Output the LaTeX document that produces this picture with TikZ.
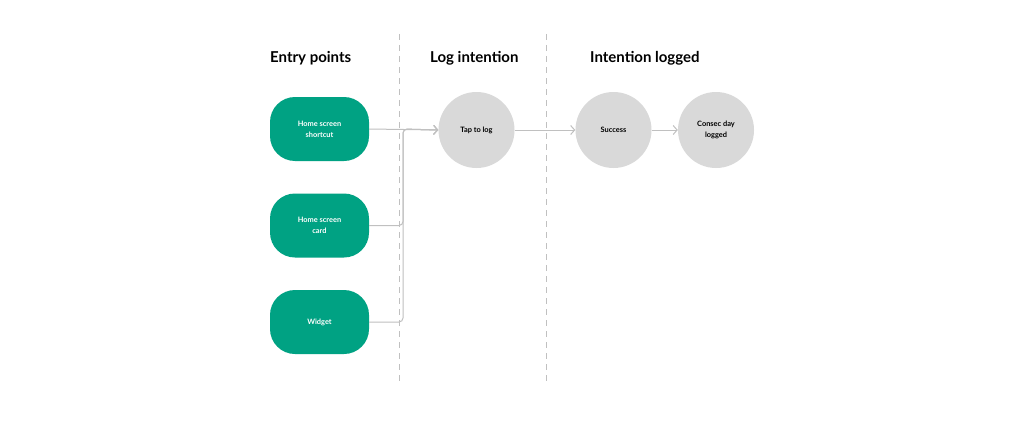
\documentclass[tikz,border=0pt]{standalone}
\usepackage{fontspec}
\setmainfont{Lato}
\usetikzlibrary{arrows.meta}
\definecolor{tgreen}{HTML}{00A283}
\definecolor{tgray}{HTML}{D9D9D9}
\definecolor{tline}{HTML}{C0C0C0}
\begin{document}
\begin{tikzpicture}[x=1pt,y=-1pt,
  entrybox/.style={fill=tgreen,rounded corners=25pt,minimum width=99pt,minimum height=64pt,inner sep=0pt,text=white,font=\fontsize{7.4}{11}\selectfont\bfseries,align=center},
  statecirc/.style={circle,fill=tgray,minimum size=76pt,inner sep=0pt,text=black,font=\fontsize{7.4}{11}\selectfont\bfseries,align=center},
  heading/.style={anchor=west,font=\fontsize{15}{18}\selectfont\bfseries,inner sep=0pt},
  divider/.style={draw=tline,dashed,dash pattern=on 6pt off 5pt,line width=0.8pt},
  conn/.style={draw=tline,line width=1pt,rounded corners=4pt,-{Straight Barb[length=4pt,width=9pt,line width=1pt]}}]
\useasboundingbox (0,0) rectangle (1024,420);
\fill[white] (0,0) rectangle (1024,420);
\coordinate (d1t) at (399.5,34); \coordinate (d1b) at (399.5,384);
\coordinate (d2t) at (546,34); \coordinate (d2b) at (546,384);
\draw[divider] (d1t) -- (d1b);
\draw[divider] (d2t) -- (d2b);
\node[heading] (h1) at (270,58) {Entry points};
\node[heading] (h2) at (430,58) {Log intention};
\node[heading] (h3) at (590,58) {Intention logged};
\node[entrybox] (b1) at (319.5,129) {Home screen\\shortcut};
\node[entrybox] (b2) at (319.5,225.5) {Home screen\\card};
\node[entrybox] (b3) at (319.5,322) {\raisebox{-1.5pt}{Widget}};
\node[statecirc] (tap) at (476.5,130) {Tap to log};
\node[statecirc] (succ) at (613.5,130) {Success};
\node[statecirc] (cons) at (716,130) {Consec day\\logged};
\coordinate (j) at (403,129);
\draw[conn] (b1.east) -- (tap.west);
\draw[conn] (b2.east) -| (j) -- (tap.west);
\draw[conn] (b3.east) -| (j) -- (tap.west);
\draw[conn] (tap.east) -- (succ.west);
\draw[conn] (succ.east) -- (cons.west);
\end{tikzpicture}
\end{document}
